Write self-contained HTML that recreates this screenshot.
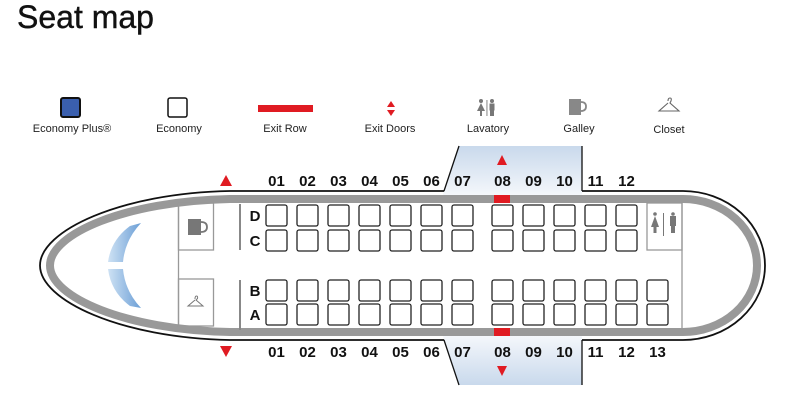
<!DOCTYPE html>
<html><head><meta charset="utf-8"><style>
html,body{margin:0;padding:0;background:#fff;}
svg{display:block;font-family:"Liberation Sans",Arial,sans-serif;}
</style></head><body>
<svg width="791" height="404" viewBox="0 0 791 404" xmlns="http://www.w3.org/2000/svg">
<defs>
<linearGradient id="dg" x1="0" y1="0" x2="0" y2="1"><stop offset="0" stop-color="#c9d9ec"/><stop offset="1" stop-color="#f4f7fb"/></linearGradient>
<linearGradient id="dg2" x1="0" y1="1" x2="0" y2="0"><stop offset="0" stop-color="#c9d9ec"/><stop offset="1" stop-color="#f4f7fb"/></linearGradient>
<linearGradient id="ws" x1="0" y1="0" x2="1" y2="0"><stop offset="0" stop-color="#cfe2f4"/><stop offset="1" stop-color="#6b9fd6"/></linearGradient>
</defs>
<text x="17" y="28" font-size="32" fill="#111" stroke="#111" stroke-width="0.4">Seat map</text>

<!-- legend -->
<rect x="61" y="98" width="19" height="19" rx="2" fill="#3a5fae" stroke="#111" stroke-width="2"/>
<rect x="168" y="98" width="19" height="19" rx="2" fill="#fff" stroke="#111" stroke-width="1.5"/>
<rect x="258" y="105" width="55" height="7" fill="#e01b22"/>
<polygon points="391,101 387,107 395,107" fill="#e01b22"/>
<polygon points="391,116 387,110 395,110" fill="#e01b22"/>
<g fill="#777">
<circle cx="481" cy="101" r="2"/><polygon points="481,103 477,111 485,111"/><rect x="480" y="111" width="2" height="5"/>
<rect x="486.5" y="100" width="0.9" height="16"/>
<circle cx="492" cy="101" r="2"/><rect x="489.5" y="103.5" width="5" height="7"/><rect x="490" y="110" width="4" height="6"/>
</g>
<path d="M569,99 h12 v16 h-12 z" fill="#888"/><path d="M581,102 q5,0 5,4.5 q0,4.5 -5,4.5" fill="none" stroke="#888" stroke-width="1.8"/>
<path d="M668,101 q0,-3 2,-3 q2,0 1,3 l-1,2 l9,8 h-20 l9,-8" fill="none" stroke="#666" stroke-width="1.1"/>
<g font-size="11" fill="#222" text-anchor="middle">
<text x="72" y="132">Economy Plus®</text>
<text x="179" y="132">Economy</text>
<text x="285" y="132">Exit Row</text>
<text x="390" y="132">Exit Doors</text>
<text x="488" y="132">Lavatory</text>
<text x="579" y="132">Galley</text>
<text x="669" y="133">Closet</text>
</g>

<!-- fuselage -->
<path d="M230,191 L683,191 A82,74.5 0 0 1 683,340 L230,340 C120,338 40,300 40,265.5 C40,231 120,193 230,191 Z" fill="#fff" stroke="#111" stroke-width="1.8"/>
<path d="M230,199 L683,199 A74,66.5 0 0 1 683,332 L230,332 C125,330 50,297 50,265.5 C50,234 125,201 230,199 Z" fill="#fff" stroke="#999" stroke-width="8"/>

<!-- doors -->
<path d="M459,146 L582,146 L582,195 L443,195 Z" fill="url(#dg)"/>
<path d="M459,146 L444,191" stroke="#111" stroke-width="1.3"/>
<path d="M582,146 L582,191" stroke="#111" stroke-width="1.3"/>
<rect x="444" y="195" width="138" height="8" fill="#999"/>
<path d="M443,336 L582,336 L582,385 L459,385 Z" fill="url(#dg2)"/>
<path d="M444,340 L459,385" stroke="#111" stroke-width="1.3"/>
<path d="M582,340 L582,385" stroke="#111" stroke-width="1.3"/>
<rect x="444" y="328" width="138" height="8" fill="#999"/>
<rect x="494" y="195" width="16" height="8" fill="#e01b22"/>
<rect x="494" y="328" width="16" height="8" fill="#e01b22"/>
<polygon points="502,155 497,165 507,165" fill="#e01b22"/>
<polygon points="502,376 497,366 507,366" fill="#e01b22"/>
<polygon points="226,175 220,186 232,186" fill="#e01b22"/>
<polygon points="226,357 220,346 232,346" fill="#e01b22"/>

<!-- windshield -->
<path d="M130,226 Q111,240 108,262 L123,262 Q125,240 141,223 Z" fill="url(#ws)"/>
<path d="M108,269 Q111,292 130,306 L141,308 Q125,291 123,269 Z" fill="url(#ws)"/>

<!-- interior partitions -->
<g stroke="#999" stroke-width="1.3" fill="none">
<line x1="178.5" y1="203" x2="178.5" y2="328"/>
<rect x="178.5" y="203" width="35" height="47"/>
<rect x="178.5" y="279" width="35" height="47"/>
<line x1="682" y1="203" x2="682" y2="328"/>
<rect x="647" y="203" width="35" height="47"/>
</g>
<line x1="240" y1="204" x2="240" y2="250" stroke="#888" stroke-width="2"/>
<line x1="240" y1="280" x2="240" y2="330" stroke="#888" stroke-width="2"/>
<path d="M188,219 h13 v16 h-13 z" fill="#777"/><path d="M201,222 q6,0 6,5 q0,5 -6,5" fill="none" stroke="#777" stroke-width="1.8"/>
<path d="M195,299 q0,-3 1.5,-3 q1.5,0 1,2.5 l-1.5,1.5 l7,6 h-15 l7,-6" fill="none" stroke="#777" stroke-width="1"/>
<g fill="#777">
<circle cx="655" cy="214" r="1.8"/><polygon points="655,216 651,227 659,227"/><rect x="653.5" y="227" width="3" height="6"/>
<rect x="663" y="213" width="1" height="23"/>
<circle cx="673" cy="214" r="1.8"/><rect x="670" y="216" width="6" height="10"/><rect x="671" y="226" width="4" height="7"/>
</g>

<!-- seats -->
<g fill="#fff" stroke="#222" stroke-width="1.3">
<g id="col">
<rect x="266" y="205" width="21" height="21" rx="2"/>
<rect x="266" y="230" width="21" height="21" rx="2"/>
<rect x="266" y="280" width="21" height="21" rx="2"/>
<rect x="266" y="304" width="21" height="21" rx="2"/>
</g>
<use href="#col" x="31"/><use href="#col" x="62"/><use href="#col" x="93"/><use href="#col" x="124"/>
<use href="#col" x="155"/><use href="#col" x="186"/><use href="#col" x="226"/><use href="#col" x="257"/>
<use href="#col" x="288"/><use href="#col" x="319"/><use href="#col" x="350"/>
<rect x="647" y="280" width="21" height="21" rx="2"/>
<rect x="647" y="304" width="21" height="21" rx="2"/>
</g>

<g font-size="15" font-weight="bold" fill="#111" text-anchor="middle">
<text x="255" y="221">D</text><text x="255" y="246">C</text>
<text x="255" y="296">B</text><text x="255" y="320">A</text>
<g>
<text x="276.5" y="186">01</text><text x="307.5" y="186">02</text><text x="338.5" y="186">03</text><text x="369.5" y="186">04</text><text x="400.5" y="186">05</text><text x="431.5" y="186">06</text><text x="462.5" y="186">07</text><text x="502.5" y="186">08</text><text x="533.5" y="186">09</text><text x="564.5" y="186">10</text><text x="595.5" y="186">11</text><text x="626.5" y="186">12</text>
</g>
<g>
<text x="276.5" y="357">01</text><text x="307.5" y="357">02</text><text x="338.5" y="357">03</text><text x="369.5" y="357">04</text><text x="400.5" y="357">05</text><text x="431.5" y="357">06</text><text x="462.5" y="357">07</text><text x="502.5" y="357">08</text><text x="533.5" y="357">09</text><text x="564.5" y="357">10</text><text x="595.5" y="357">11</text><text x="626.5" y="357">12</text><text x="657.5" y="357">13</text>
</g>
</g>
</svg>
</body></html>
